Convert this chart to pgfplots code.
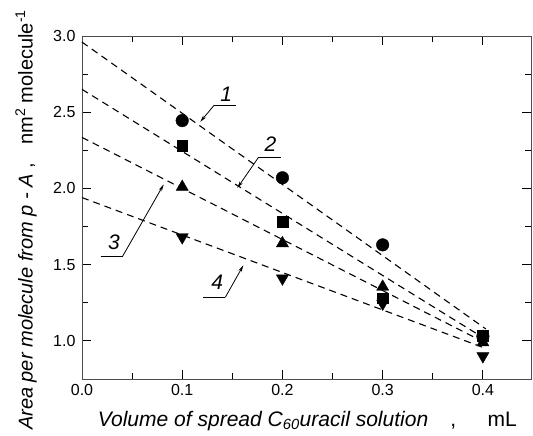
\documentclass[border=0pt]{standalone}
\usepackage{graphicx}
\usepackage{pgfplots}
\pgfplotsset{compat=1.18}
\usetikzlibrary{arrows.meta}
\usepackage{fontspec}
\setmainfont{Liberation Sans}
\begin{document}
\begin{tikzpicture}
\path[use as bounding box] (-82pt,-57pt) rectangle (451pt,379pt);
\begin{axis}[
  scale only axis, width=449pt, height=343pt,
  xmin=0, xmax=0.448, ymin=0.75, ymax=3.0,
  xtick={0,0.1,0.2,0.3,0.4}, minor xtick={0.05,0.15,0.25,0.35},
  ytick={1.0,1.5,2.0,2.5,3.0}, minor ytick={0.75,1.25,1.75,2.25,2.75},
  /pgf/number format/fixed, /pgf/number format/fixed zerofill,
  /pgf/number format/precision=1,
  /pgf/number format/assume math mode=true,
  tick align=inside, major tick length=9pt, minor tick length=6pt,
  tick style={black, line width=0.8pt},
  axis line style={black!70, line width=0.9pt},
  ticklabel style={font=\fontsize{16}{16}\selectfont},
  xticklabel style={yshift=-2pt},
  yticklabel style={xshift=-3pt},
  xlabel={\resizebox{419pt}{!}{\fontsize{21}{22}\selectfont\textit{Volume of spread C\textsubscript{60}uracil solution}\hspace{1.05em},\hspace{1.5em}mL}},
  ylabel={\resizebox{420pt}{!}{\fontsize{20}{21}\selectfont\textit{Area per molecule from p - A} ,\hspace{0.9em}nm\textsuperscript{2} molecule\textsuperscript{-1}}},
  xlabel style={at={(axis description cs:0.502,-0.1224)}, anchor=center},
  ylabel style={at={(axis description cs:-0.1247,0.4636)}, anchor=center},
  clip=false,
]
% fitted dashed lines
\addplot[black, line width=1.1pt, dash pattern=on 7pt off 5pt] coordinates {(0,2.96) (0.403,1.078)};
\addplot[black, line width=1.1pt, dash pattern=on 7pt off 5pt] coordinates {(0,2.65) (0.403,1.01)};
\addplot[black, line width=1.1pt, dash pattern=on 7pt off 5pt] coordinates {(0,2.335) (0.403,0.985)};
\addplot[black, line width=1.1pt, dash pattern=on 7pt off 5pt] coordinates {(0,1.94) (0.403,0.95)};
% data points
\addplot[only marks, mark=*, mark size=6.3pt, black, fill=black] coordinates {(0.1,2.445) (0.2,2.07) (0.3,1.63) (0.4,1.03)};
\addplot[only marks, mark=square*, mark size=5.3pt, black, fill=black] coordinates {(0.1,2.28) (0.2,1.78) (0.3,1.28) (0.4,1.035)};
\addplot[only marks, mark=triangle*, mark size=7pt, black, fill=black] coordinates {(0.1,2.01) (0.2,1.64) (0.3,1.355) (0.4,0.99)};
\addplot[only marks, mark=triangle*, mark options={rotate=180}, mark size=7pt, black, fill=black] coordinates {(0.1,1.68) (0.2,1.41) (0.3,1.245) (0.4,0.90)};
% annotations
\tikzset{lab/.style={font=\fontsize{21}{21}\selectfont\itshape},
         arr/.style={line width=0.8pt,-{Stealth[length=7pt,width=3.5pt]}}}
\node[lab] at (axis cs:0.144,2.62) {1};
\draw[line width=0.8pt] (axis cs:0.132,2.547) -- (axis cs:0.154,2.547);
\draw[arr] (axis cs:0.132,2.547) -- (axis cs:0.118,2.437);
\node[lab] at (axis cs:0.188,2.29) {2};
\draw[line width=0.8pt] (axis cs:0.176,2.203) -- (axis cs:0.199,2.203);
\draw[arr] (axis cs:0.176,2.203) -- (axis cs:0.155,2.003);
\node[lab] at (axis cs:0.032,1.647) {3};
\draw[line width=0.8pt] (axis cs:0.0185,1.555) -- (axis cs:0.0405,1.555);
\draw[arr] (axis cs:0.0405,1.555) -- (axis cs:0.0815,2.026);
\node[lab] at (axis cs:0.135,1.384) {4};
\draw[line width=0.8pt] (axis cs:0.121,1.286) -- (axis cs:0.143,1.286);
\draw[arr] (axis cs:0.143,1.286) -- (axis cs:0.161,1.496);
\end{axis}
\end{tikzpicture}
\end{document}
